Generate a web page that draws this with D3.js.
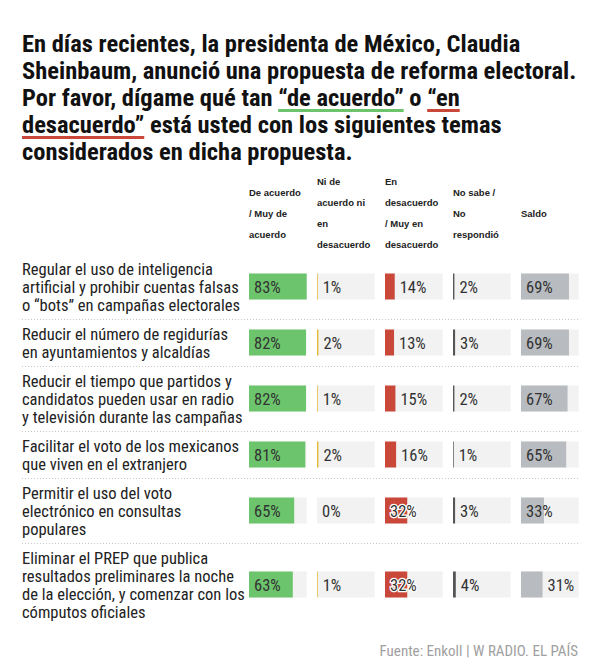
<!DOCTYPE html>
<html>
<head>
<meta charset="utf-8">
<script src="https://cdn.jsdelivr.net/npm/d3@7"></script>
<style>
  html, body { margin: 0; padding: 0; background: #fff; }
  svg { display: block; }
</style>
</head>
<body>
<div id="chart"></div>
<script>
// ---------------------------------------------------------------------------
// Data
// ---------------------------------------------------------------------------

const temas = [
  ['Regular el uso de inteligencia', 'artificial y prohibir cuentas falsas', 'o “bots” en campañas electorales'],
  ['Reducir el número de regidurías', 'en ayuntamientos y alcaldías'],
  ['Reducir el tiempo que partidos y', 'candidatos pueden usar en radio', 'y televisión durante las campañas'],
  ['Facilitar el voto de los mexicanos', 'que viven en el extranjero'],
  ['Permitir el uso del voto', 'electrónico en consultas', 'populares'],
  ['Eliminar el PREP que publica', 'resultados preliminares la noche', 'de la elección, y comenzar con los', 'cómputos oficiales']
]

const columnas = [
  ['De acuerdo', '/ Muy de', 'acuerdo'],
  ['Ni de', 'acuerdo ni', 'en', 'desacuerdo'],
  ['En', 'desacuerdo', '/ Muy en', 'desacuerdo'],
  ['No sabe /', 'No', 'respondió'],
  ['Saldo']
]

const deAcuerdo  = [83, 82, 82, 81, 65, 63]
const niNi       = [1, 2, 1, 2, 0, 1]
const desacuerdo = [14, 13, 15, 16, 32, 32]
const noSabe     = [2, 3, 2, 1, 3, 4]
const saldo      = [69, 69, 67, 65, 33, 31]

const series = [deAcuerdo, niNi, desacuerdo, noSabe, saldo]
const colores = ['#6cc56c', '#e6b82e', '#c9483a', '#555555', '#b8bcc0']

const tituloLineas = [
  [{t: 'En días recientes, la presidenta de México, Claudia'}],
  [{t: 'Sheinbaum, anunció una propuesta de reforma electoral.'}],
  [{t: 'Por favor, dígame qué tan '}, {t: '“de acuerdo”', u: '#6cc56c'}, {t: ' o '}, {t: '“en', u: '#c9483a'}],
  [{t: 'desacuerdo”', u: '#c9483a'}, {t: ' está usted con los siguientes temas'}],
  [{t: 'considerados en dicha propuesta.'}]
]

const fuente = 'Fuente: Enkoll | W RADIO. EL PAÍS'

// ---------------------------------------------------------------------------
// Layout
// ---------------------------------------------------------------------------

const width = 611, height = 671
const left = 22, right = 578
const narrow = '"Liberation Sans Narrow", "Roboto Condensed", Roboto, sans-serif'

const svg = d3.select('#chart').append('svg')
  .attr('width', width)
  .attr('height', height)
  .style('font-family', narrow)

// Title with underlined quotes
const title = svg.append('g')
tituloLineas.forEach((segs, i) => {
  const y = 52 + i * 27
  const text = title.append('text')
    .attr('x', left)
    .attr('y', y)
    .style('font-size', '24.5px')
    .style('font-weight', 'bold')
    .attr('fill', '#111')
  const spans = segs.map(s => text.append('tspan').text(s.t))
  segs.forEach((s, j) => {
    if (!s.u) return
    const b = spans[j].node().getBBox()
    title.append('rect')
      .attr('x', b.x)
      .attr('y', y + 3)
      .attr('width', b.width)
      .attr('height', 3)
      .attr('fill', s.u)
  })
})

// Columns
const colX = d3.scaleBand()
  .domain(d3.range(columnas.length))
  .range([249, 249 + 68 * columnas.length])
  .paddingInner(0)
const cellW = 57.7

const x = d3.scaleLinear()
  .domain([0, d3.max(series.flat())])
  .range([0, cellW])

// Column headers
columnas.forEach((lines, c) => {
  const t = svg.append('text')
    .attr('x', colX(c))
    .style('font-family', '"Liberation Sans", Arial, sans-serif')
    .style('font-size', '9.5px')
    .style('font-weight', 'bold')
    .attr('fill', '#222')
  lines.forEach((l, k) => {
    t.append('tspan')
      .attr('x', colX(c))
      .attr('y', 213 + 3.5 + (k - (lines.length - 1) / 2) * 21)
      .text(l)
  })
})

// Rows
const lineH = 18
const rowH = temas.map(t => t.length * lineH + 11)
const rowTop = [254]
rowH.forEach((h, i) => rowTop.push(rowTop[i] + h))

const barH = 26

temas.forEach((lines, r) => {
  const cy = rowTop[r] + rowH[r] / 2
  const g = svg.append('g')

  const label = g.append('text')
    .style('font-size', '16.5px')
    .attr('fill', '#222')
  lines.forEach((l, k) => {
    label.append('tspan')
      .attr('x', left)
      .attr('y', cy + 6 + (k - (lines.length - 1) / 2) * lineH)
      .text(l)
  })

  series.forEach((vals, c) => {
    const v = vals[r]
    const x0 = colX(c)
    g.append('rect')
      .attr('x', x0).attr('y', cy - barH / 2)
      .attr('width', cellW).attr('height', barH)
      .attr('fill', '#f2f2f2')
    g.append('rect')
      .attr('x', x0).attr('y', cy - barH / 2)
      .attr('width', x(v)).attr('height', barH)
      .attr('fill', colores[c])
    const inside = x(v) > 22
    const t = g.append('text')
      .attr('x', inside ? x0 + 5 : x0 + x(v) + 5)
      .attr('y', cy + 6)
      .style('font-size', '16.5px')
      .attr('fill', '#333')
      .text(v + '%')
    if (inside && c === 2)
      t.attr('stroke', '#fff').attr('stroke-width', 2.5)
        .style('paint-order', 'stroke')
  })

  // Dotted separator
  if (r < temas.length - 1)
    svg.append('line')
      .attr('x1', left).attr('x2', right)
      .attr('y1', rowTop[r + 1] + 0.5).attr('y2', rowTop[r + 1] + 0.5)
      .attr('stroke', '#c8c8c8')
      .attr('stroke-dasharray', '1,2')
})

// Source
svg.append('text')
  .attr('x', right)
  .attr('y', 656)
  .attr('text-anchor', 'end')
  .style('font-size', '15px')
  .attr('fill', '#a0a0a0')
  .text(fuente)
</script>
</body>
</html>
